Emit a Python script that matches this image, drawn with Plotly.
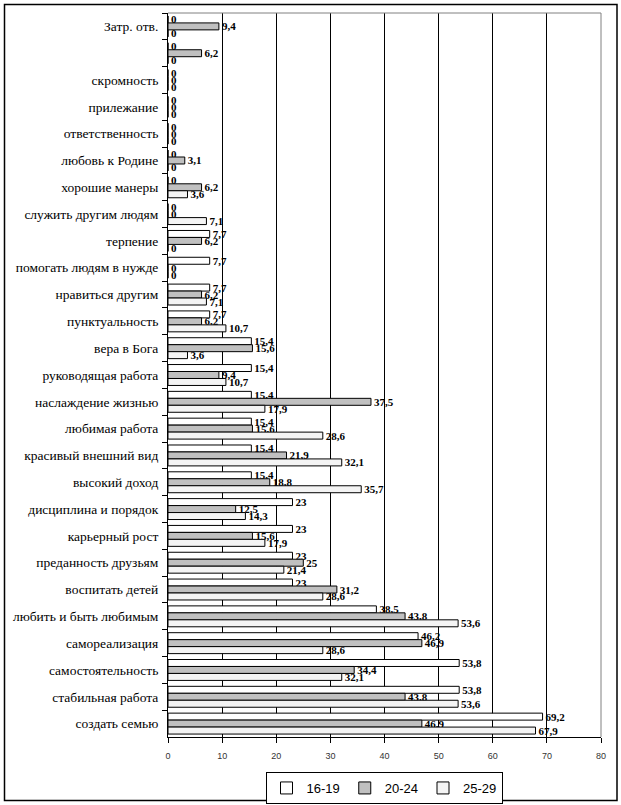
import plotly.graph_objects as go

categories = [
    "Затр. отв.", " ", "скромность", "прилежание", "ответственность",
    "любовь к Родине", "хорошие манеры", "служить другим людям", "терпение",
    "помогать людям в нужде", "нравиться другим", "пунктуальность",
    "вера в Бога", "руководящая работа", "наслаждение жизнью",
    "любимая работа", "красивый внешний вид", "высокий доход",
    "дисциплина и порядок", "карьерный рост", "преданность друзьям",
    "воспитать детей", "любить и быть любимым", "самореализация",
    "самостоятельность", "стабильная работа", "создать семью",
]
s16_19 = [0, 0, 0, 0, 0, 0, 0, 0, 7.7, 7.7, 7.7, 7.7, 15.4, 15.4, 15.4,
          15.4, 15.4, 15.4, 23, 23, 23, 23, 38.5, 46.2, 53.8, 53.8, 69.2]
s20_24 = [9.4, 6.2, 0, 0, 0, 3.1, 6.2, 0, 6.2, 0, 6.2, 6.2, 15.6, 9.4, 37.5,
          15.6, 21.9, 18.8, 12.5, 15.6, 25, 31.2, 43.8, 46.9, 34.4, 43.8, 46.9]
s25_29 = [0, 0, 0, 0, 0, 0, 3.6, 7.1, 0, 0, 7.1, 10.7, 3.6, 10.7, 17.9,
          28.6, 32.1, 35.7, 14.3, 17.9, 21.4, 28.6, 53.6, 28.6, 32.1, 53.6, 67.9]
series_names = ["16-19", "20-24", "25-29"]
x_ticks = [0, 10, 20, 30, 40, 50, 60, 70, 80]

colors = ["#ffffff", "#c0c0c0", "#f4f4f4"]
SERIF = "Liberation Serif, Times New Roman, DejaVu Serif, serif"


def fmt(v):
    return f"{v:g}".replace(".", ",")


fig = go.Figure()
for name, vals, col in zip(series_names, [s16_19, s20_24, s25_29], colors):
    fig.add_trace(go.Bar(
        y=categories, x=vals, name=name, orientation="h",
        marker=dict(color=col, line=dict(color="#000000", width=1)),
        text=[fmt(v) for v in vals], textposition="outside",
        constraintext="none", cliponaxis=False,
        textfont=dict(family=SERIF, size=11, color="#000000"),
        texttemplate="<b>%{text}</b>",
    ))

W, H = 621, 805
L, R, T, B = 168, 20, 13, 68
pw, ph = W - L - R, H - T - B


def px(x):
    return (x - L) / pw


def py(y):
    return (H - B - y) / ph


fig.update_layout(
    width=W, height=H,
    margin=dict(l=L, r=R, t=T, b=B, autoexpand=False),
    paper_bgcolor="white", plot_bgcolor="white",
    barmode="group", bargap=0.22, bargroupgap=0,
    showlegend=True,
    legend=dict(
        orientation="h", x=px(384), xanchor="center", y=py(772), yanchor="top",
        bordercolor="#000000", borderwidth=1,
        font=dict(family="Liberation Sans", size=13, color="#000000"),
        tracegroupgap=0, itemwidth=30,
    ),
    xaxis=dict(
        range=[0, 80], tickvals=x_ticks, showgrid=True, gridcolor="#000000",
        gridwidth=1, zeroline=False, showline=True, linecolor="#000000",
        linewidth=1, ticks="outside", ticklen=5, tickcolor="#000000",
        tickfont=dict(family="Liberation Sans", size=9, color="#333333"),
        ticklabelstandoff=5, automargin=False,
    ),
    yaxis=dict(
        autorange="reversed", type="category", tickson="boundaries",
        showline=True, linecolor="#000000", linewidth=1, showgrid=False,
        ticks="outside", ticklen=5, tickcolor="#000000",
        tickfont=dict(family=SERIF, size=13.5, color="#000000"),
        ticklabelstandoff=6, automargin=False,
    ),
    shapes=[
        dict(type="line", xref="paper", yref="paper", x0=0, x1=1, y0=1, y1=1,
             line=dict(color="#808080", width=1)),
        dict(type="line", xref="paper", yref="paper", x0=1, x1=1, y0=0, y1=1,
             line=dict(color="#808080", width=1)),
        dict(type="rect", xref="paper", yref="paper",
             x0=px(4.5), x1=px(617), y0=py(800.5), y1=py(4.5),
             line=dict(color="#000000", width=1.5), layer="below"),
    ],
)

fig.write_html("out.html", config={"displayModeBar": False},
               post_script="document.body.style.margin='0';")
